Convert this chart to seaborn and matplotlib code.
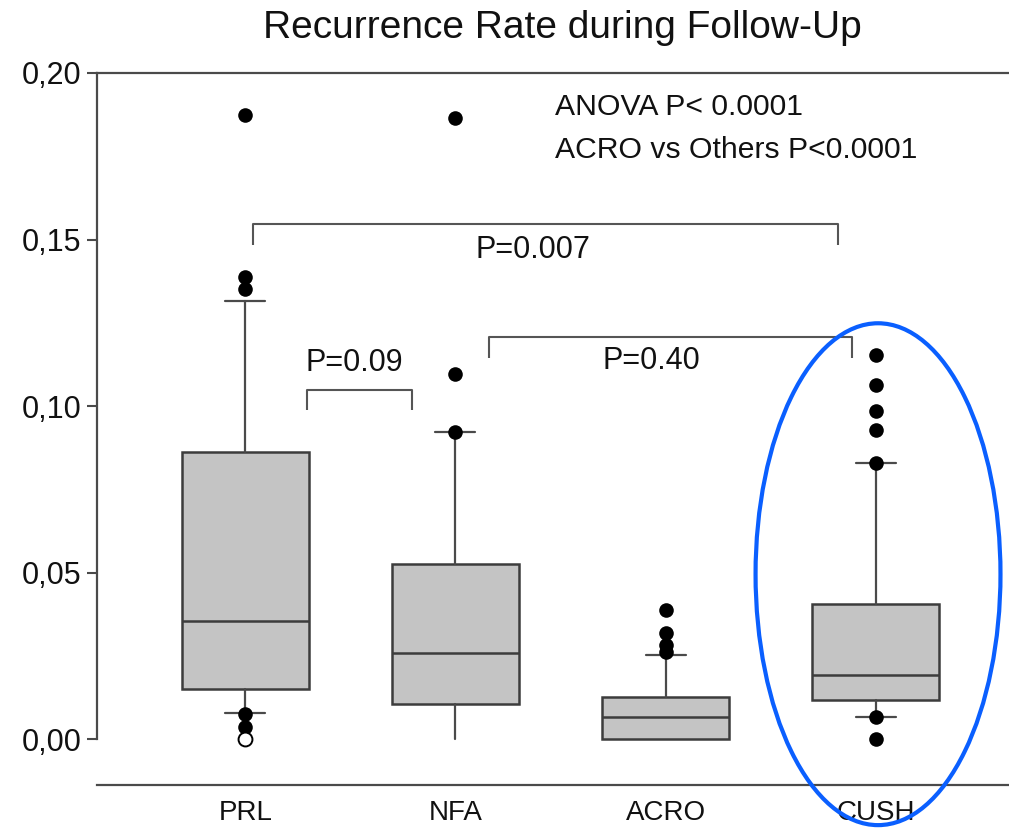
import matplotlib
matplotlib.use("Agg")
import matplotlib.pyplot as plt
import pandas as pd
import seaborn as sns
from matplotlib.patches import Ellipse

# Box summaries per tumour group (recurrence rate)
categories = ["PRL", "NFA", "ACRO", "CUSH"]
q1 = [0.0149, 0.0105, 0.0000, 0.0117]
median = [0.0354, 0.0259, 0.0066, 0.0192]
q3 = [0.0861, 0.0526, 0.0126, 0.0407]
whisker_low = [0.0077, 0.0000, 0.0000, 0.0067]
whisker_high = [0.1316, 0.0922, 0.0252, 0.0828]

# Individual points beyond the whiskers
outlier_group = (["PRL"] * 5 + ["NFA"] * 3 + ["ACRO"] * 4 + ["CUSH"] * 7)
outlier_value = [0.1874, 0.1387, 0.1350, 0.0075, 0.0037,
                 0.1865, 0.1096, 0.0922,
                 0.0387, 0.0318, 0.0282, 0.0260,
                 0.1153, 0.1063, 0.0986, 0.0928, 0.0828, 0.0067, 0.0000]
open_group = ["PRL"]
open_value = [0.0000]

ytick_values = [0.00, 0.05, 0.10, 0.15, 0.20]
ytick_labels = ["0,00", "0,05", "0,10", "0,15", "0,20"]

# Pairwise comparisons: (left x, right x, bar height, drop), label, label position
brackets = [(0.038, 2.82, 0.1547, 0.0064), (0.295, 0.794, 0.1048, 0.0060),
            (1.16, 2.886, 0.1207, 0.0063)]
bracket_labels = ["P=0.007", "P=0.09", "P=0.40"]
bracket_label_xy = [(1.37, 0.1468), (0.518, 0.1129), (1.93, 0.1135)]

sns.set_theme(style="white")
plt.rcParams["font.family"] = ["Liberation Sans", "DejaVu Sans"]

W, H = 1009, 838
fig = plt.figure(figsize=(W / 100, H / 100), dpi=100)
ax = fig.add_axes([97 / W, 53 / H, (W - 97) / W, 712 / H])

txt_col = "#111111"
line_col = "#4a4a4a"
stats = [dict(med=m, q1=a, q3=b, whislo=lo, whishi=hi, fliers=[])
         for m, a, b, lo, hi in zip(median, q1, q3, whisker_low, whisker_high)]
art = ax.bxp(stats, positions=range(len(categories)), widths=0.604,
             capwidths=0.19, showfliers=False, patch_artist=True,
             boxprops=dict(facecolor="#c4c4c4", edgecolor="#3c3c3c", linewidth=1.8),
             medianprops=dict(color="#3c3c3c", linewidth=1.8),
             whiskerprops=dict(color=line_col, linewidth=1.6),
             capprops=dict(color=line_col, linewidth=1.6))
# no lower cap where the whisker sits at zero
for i, lo in enumerate(whisker_low):
    if lo == q1[i] or lo == 0:
        art["caps"][2 * i].set_visible(False)

pts = pd.DataFrame({"group": outlier_group, "value": outlier_value})
sns.stripplot(data=pts, x="group", y="value", order=categories, jitter=False,
              color="black", size=10.5, linewidth=0, ax=ax, zorder=4)
hollow = pd.DataFrame({"group": open_group, "value": open_value})
sns.stripplot(data=hollow, x="group", y="value", order=categories, jitter=False,
              color="white", edgecolor="black", linewidth=1.4, size=10, ax=ax, zorder=4)

ax.set_xlim(-0.705, 3.633)
ax.set_ylim(-0.0138, 0.20)
ax.set_xlabel("")
ax.set_ylabel("")
ax.set_xticks(range(len(categories)))
ax.set_xticklabels(categories)
ax.set_yticks(ytick_values)
ax.set_yticklabels(ytick_labels)
ax.tick_params(axis="y", left=True, direction="out", length=7, width=1.5,
               color=line_col, labelsize=22, pad=4, labelcolor=txt_col)
ax.tick_params(axis="x", bottom=False, length=0, labelsize=20, pad=11,
               labelcolor=txt_col)

for side in ["left", "top", "bottom"]:
    ax.spines[side].set_color(line_col)
    ax.spines[side].set_linewidth(1.6)
ax.spines["right"].set_visible(False)
ax.spines["left"].set_bounds(0, 0.20)

for (x0, x1, y, drop), lab, (tx, ty) in zip(brackets, bracket_labels, bracket_label_xy):
    ax.plot([x0, x0, x1, x1], [y - drop, y, y, y - drop], color="#555555",
            lw=1.5, solid_capstyle="butt", zorder=3)
    ax.text(tx, ty, lab, ha="center", va="center", fontsize=22, color=txt_col)

ax.text(1.474, 0.1898, "ANOVA P< 0.0001", ha="left", va="center",
        fontsize=21.7, color=txt_col)
ax.text(1.474, 0.1769, "ACRO vs Others P<0.0001", ha="left", va="center",
        fontsize=21.7, color=txt_col)

ax.add_patch(Ellipse((3.01, 0.0495), 1.165, 0.1507, fill=False,
                     edgecolor="#0a5fff", lw=3, clip_on=False, zorder=6))

fig.text(562 / W, 1 - 28 / H, "Recurrence Rate during Follow-Up",
         ha="center", va="center", fontsize=28, color=txt_col)

fig.savefig("out.png", dpi=100)
